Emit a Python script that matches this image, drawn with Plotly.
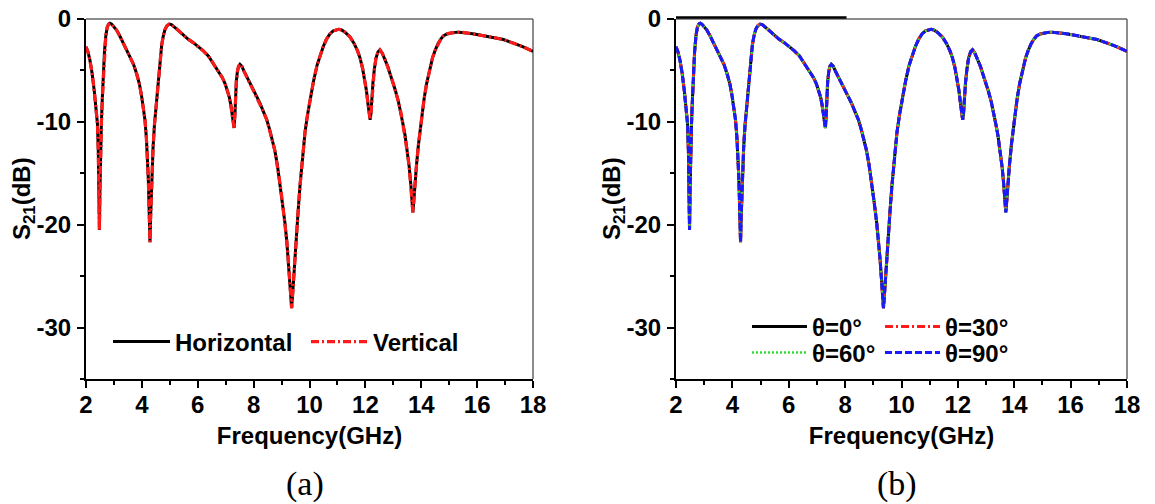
import plotly.graph_objects as go

# Transmission coefficient S21 versus frequency
freq_ghz = [
    2.00, 2.07, 2.14, 2.22, 2.30, 2.36, 2.41, 2.44, 2.46, 2.48, 2.50, 2.52, 2.55,
    2.58, 2.62, 2.66, 2.71, 2.76, 2.81, 2.86, 2.92, 3.00, 3.10, 3.22, 3.34, 3.46,
    3.57, 3.70, 3.81, 3.91, 3.99, 4.06, 4.11, 4.16, 4.20, 4.23, 4.25, 4.27, 4.29,
    4.31, 4.33, 4.36, 4.40, 4.45, 4.51, 4.55, 4.59, 4.65, 4.71, 4.77, 4.83, 4.90,
    4.98, 5.06, 5.16, 5.26, 5.36, 5.50, 5.65, 5.84, 6.00, 6.20, 6.38, 6.55, 6.74,
    6.88, 6.98, 7.06, 7.13, 7.18, 7.22, 7.26, 7.30, 7.33, 7.35, 7.38, 7.42, 7.46,
    7.51, 7.58, 7.66, 7.75, 7.87, 7.99, 8.11, 8.23, 8.35, 8.47, 8.56, 8.65, 8.76,
    8.85, 8.94, 9.03, 9.12, 9.19, 9.24, 9.29, 9.33, 9.36, 9.39, 9.43, 9.48, 9.54,
    9.60, 9.66, 9.72, 9.78, 9.84, 9.93, 10.02, 10.14, 10.27, 10.38, 10.49, 10.61,
    10.73, 10.85, 10.96, 11.05, 11.15, 11.28, 11.45, 11.60, 11.72, 11.81, 11.90,
    11.98, 12.04, 12.10, 12.14, 12.17, 12.20, 12.23, 12.27, 12.32, 12.38, 12.45,
    12.52, 12.60, 12.70, 12.80, 12.88, 12.98, 13.08, 13.18, 13.28, 13.36, 13.42,
    13.50, 13.57, 13.63, 13.67, 13.70, 13.73, 13.77, 13.83, 13.90, 14.01, 14.10,
    14.19, 14.30, 14.40, 14.49, 14.60, 14.70, 14.79, 14.92, 15.05, 15.20, 15.35,
    15.50, 15.70, 15.90, 16.10, 16.30, 16.60, 16.94, 17.30, 17.65, 18.00,
]

s21_db = [
    -2.7, -3.2, -4.0, -5.3, -7.1, -8.6, -10.2, -12.8, -16.0, -20.5, -16.5, -13.0, -10.2,
    -8.0, -5.5, -3.2, -1.6, -0.8, -0.5, -0.42, -0.5, -0.75, -1.1, -1.7, -2.4, -3.0,
    -3.7, -4.4, -5.3, -6.3, -7.5, -8.6, -9.8, -11.5, -13.3, -15.5, -17.5, -19.5, -21.7,
    -19.5, -17.5, -15.0, -12.5, -10.3, -8.5, -7.0, -5.6, -3.9, -2.5, -1.6, -1.0, -0.65,
    -0.5, -0.55, -0.75, -1.0, -1.25, -1.6, -1.95, -2.3, -2.65, -3.1, -3.6, -4.3, -5.0,
    -5.7, -6.3, -6.9, -7.6, -8.3, -9.1, -9.9, -10.6, -9.3, -7.8, -6.1, -5.1, -4.6,
    -4.4, -4.6, -5.1, -5.6, -6.2, -6.9, -7.5, -8.2, -9.0, -9.8, -10.6, -11.6, -12.8,
    -14.2, -15.9, -17.8, -19.8, -21.7, -23.4, -25.3, -27.0, -28.1, -27.0, -25.2, -23.2, -20.7,
    -18.4, -16.2, -14.3, -12.6, -11.0, -9.3, -7.9, -6.1, -4.5, -3.5, -2.7, -1.95,
    -1.45, -1.15, -1.05, -1.0, -1.07, -1.3, -1.75, -2.4, -3.1, -3.8, -4.8,
    -5.9, -7.0, -8.4, -9.4, -9.8, -9.2, -7.8, -6.2, -4.9, -3.8, -3.2,
    -3.0, -3.3, -3.9, -4.6, -5.3, -6.1, -7.0, -8.0, -9.2, -10.4, -11.3,
    -12.9, -14.4, -16.2, -17.7, -18.8, -17.8, -16.2, -14.2, -12.2, -9.6, -7.8,
    -6.3, -4.8, -3.8, -3.1, -2.4, -1.95, -1.65, -1.45, -1.35, -1.3, -1.28,
    -1.3, -1.38, -1.45, -1.55, -1.65, -1.8, -2.0, -2.35, -2.7, -3.15,
]

# (a) polarization, (b) incidence angle -- the responses coincide
s21_horizontal = s21_db
s21_vertical = s21_db
s21_theta0 = s21_db
s21_theta30 = s21_db
s21_theta60 = s21_db
s21_theta90 = s21_db

x_ticks = [2, 4, 6, 8, 10, 12, 14, 16, 18]
y_ticks = [0, -10, -20, -30]

W, H = 1155, 504
FONT = "Arial, Liberation Sans, sans-serif"

fig = go.Figure()

# panel (a)
fig.add_trace(go.Scatter(x=freq_ghz, y=s21_horizontal, name="Horizontal", mode="lines",
                         line=dict(color="black", width=3), xaxis="x", yaxis="y",
                         legend="legend"))
fig.add_trace(go.Scatter(x=freq_ghz, y=s21_vertical, name="Vertical", mode="lines",
                         line=dict(color="#ff1a1a", width=3.2, dash="8px,3px,2px,3px"),
                         xaxis="x", yaxis="y", legend="legend"))

# panel (b)
fig.add_trace(go.Scatter(x=freq_ghz, y=s21_theta0, name="θ=0°", mode="lines",
                         line=dict(color="black", width=3), xaxis="x2", yaxis="y2",
                         legend="legend2"))
fig.add_trace(go.Scatter(x=freq_ghz, y=s21_theta30, name="θ=30°", mode="lines",
                         line=dict(color="#ff1a1a", width=3, dash="8px,3px,2px,3px"),
                         xaxis="x2", yaxis="y2", legend="legend2"))
fig.add_trace(go.Scatter(x=freq_ghz, y=s21_theta60, name="θ=60°", mode="lines",
                         line=dict(color="#33dd33", width=2.5, dash="2px,2px"),
                         xaxis="x2", yaxis="y2", legend="legend3"))
fig.add_trace(go.Scatter(x=freq_ghz, y=s21_theta90, name="θ=90°", mode="lines",
                         line=dict(color="#1a1aff", width=3, dash="7px,3px"),
                         xaxis="x2", yaxis="y2", legend="legend3"))

tick_font = dict(family=FONT, size=24, color="black", weight="bold")


def xaxis_cfg(domain):
    return dict(domain=domain, range=[2, 18], tickvals=x_ticks,
                ticktext=[str(v) for v in x_ticks], ticks="outside", ticklen=7,
                tickwidth=2, tickcolor="black", showline=True, linecolor="black",
                linewidth=2, showgrid=False, zeroline=False, tickfont=tick_font,
                ticklabelstandoff=-4, automargin=False,
                minor=dict(dtick=1, tick0=2, ticks="outside", ticklen=4, tickwidth=2,
                           tickcolor="black", showgrid=False),
                title=dict(text="Frequency(GHz)", font=tick_font, standoff=10))


def yaxis_cfg(domain, anchor):
    return dict(domain=domain, range=[-35, 0], tickvals=y_ticks,
                ticktext=[str(v) for v in y_ticks], ticks="outside", ticklen=7,
                tickwidth=2, tickcolor="black", showline=True, linecolor="black",
                linewidth=2, showgrid=False, zeroline=False, tickfont=tick_font,
                anchor=anchor, ticklabelstandoff=1, automargin=False,
                minor=dict(dtick=5, tick0=0, ticks="outside", ticklen=4, tickwidth=2,
                           tickcolor="black", showgrid=False))


y_dom = [(H - 379) / H, (H - 19) / H]
legend_font = dict(family=FONT, size=24, color="black", weight="bold")

fig.update_layout(
    width=W, height=H,
    margin=dict(l=0, r=0, t=0, b=0, autoexpand=False),
    paper_bgcolor="white", plot_bgcolor="white",
    xaxis=xaxis_cfg([86 / W, 533 / W]) | dict(anchor="y"),
    yaxis=yaxis_cfg(y_dom, "x"),
    xaxis2=xaxis_cfg([676 / W, 1127 / W]) | dict(anchor="y2"),
    yaxis2=yaxis_cfg(y_dom, "x2"),
    legend=dict(orientation="h", x=108 / W, y=(H - 342) / H, xanchor="left",
                yanchor="middle", font=legend_font, bgcolor="rgba(0,0,0,0)",
                entrywidth=126, entrywidthmode="pixels", itemwidth=57),
    legend2=dict(orientation="h", x=747 / W, y=(H - 327) / H, xanchor="left",
                 yanchor="middle", font=legend_font, bgcolor="rgba(0,0,0,0)",
                 entrywidth=63, entrywidthmode="pixels", itemwidth=55),
    legend3=dict(orientation="h", x=747 / W, y=(H - 353) / H, xanchor="left",
                 yanchor="middle", font=legend_font, bgcolor="rgba(0,0,0,0)",
                 entrywidth=63, entrywidthmode="pixels", itemwidth=55),
    showlegend=True,
)

# thin grey top and right frame edges
for xr, yr in (("x domain", "y domain"), ("x2 domain", "y2 domain")):
    fig.add_shape(type="line", xref=xr, yref=yr, x0=0, x1=1, y0=1, y1=1,
                  line=dict(color="#666666", width=1.5), layer="below")
    fig.add_shape(type="line", xref=xr, yref=yr, x0=1, x1=1, y0=0, y1=1,
                  line=dict(color="#666666", width=1.5), layer="below")

# dark segment along the top edge of panel (b)
fig.add_shape(type="line", xref="x2", yref="y2 domain", x0=2, x1=8.05, y0=1.004, y1=1.004,
              line=dict(color="black", width=2.5))

# rotated y-axis titles
for xc in (23, 613):
    fig.add_annotation(text="S<sub>21</sub>(dB)", xref="paper", yref="paper",
                       x=xc / W, y=(H - 199) / H, textangle=-90, showarrow=False,
                       font=tick_font, xanchor="center", yanchor="middle")

# panel captions
for label, xc in (("(a)", 305), ("(b)", 897)):
    fig.add_annotation(text=label, xref="paper", yref="paper", x=xc / W,
                       y=(H - 484) / H, showarrow=False,
                       font=dict(family="Liberation Serif, Times New Roman, serif",
                                 size=34, color="black"),
                       xanchor="center", yanchor="middle")

fig.write_html("out.html")
